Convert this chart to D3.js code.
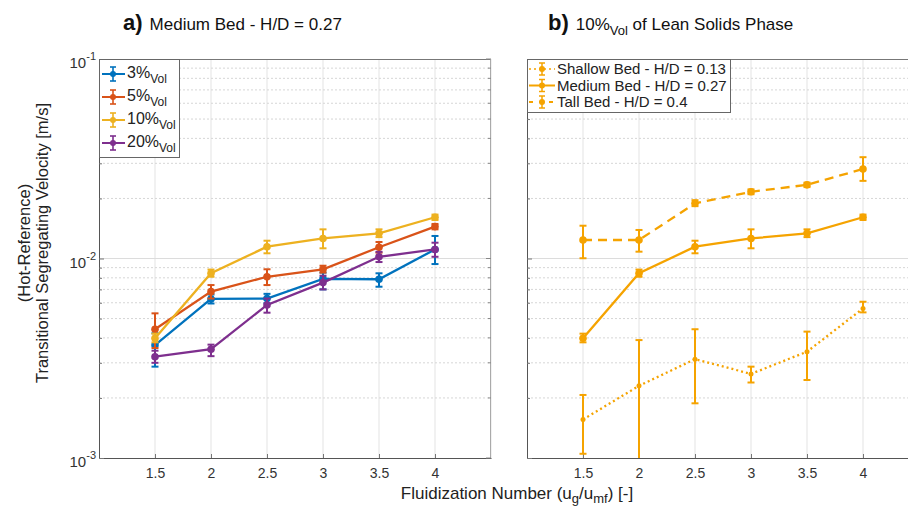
<!DOCTYPE html>
<html><head><meta charset="utf-8">
<script src="https://cdn.jsdelivr.net/npm/d3@7"></script>
<style>
html,body{margin:0;padding:0;background:#fff;}
svg{display:block;font-family:"Liberation Sans",Arial,Helvetica,sans-serif;}
</style></head><body>
<svg id="c" width="908" height="517"></svg>
<script>
// ---------- data ----------
const xValues = [1.5, 2, 2.5, 3, 3.5, 4];
const xTicks = [1.5, 2, 2.5, 3, 3.5, 4];
const yTicks = [0.001, 0.01, 0.1];
const yTickExp = ["-3", "-2", "-1"];

// panel a) Medium Bed - H/D = 0.27
const leftNames = ["3%", "5%", "10%", "20%"];
const leftColors = ["#0072BD", "#D95319", "#EDB120", "#7E2F8E"];
const v3Mean  = [0.00368, 0.00627, 0.00630, 0.00790, 0.00787, 0.0111];
const v3Lo    = [0.00287, 0.00595, 0.00597, 0.00700, 0.00722, 0.00938];
const v3Hi    = [0.00422, 0.00660, 0.00665, 0.00850, 0.00843, 0.01297];
const v5Mean  = [0.00442, 0.00682, 0.00810, 0.00883, 0.01138, 0.01445];
const v5Lo    = [0.00356, 0.00630, 0.00736, 0.00850, 0.01070, 0.01400];
const v5Hi    = [0.00531, 0.00736, 0.00883, 0.00920, 0.01210, 0.01490];
const v10Mean = [0.00398, 0.00843, 0.01146, 0.01260, 0.01337, 0.01610];
const v10Lo   = [0.00380, 0.00810, 0.01062, 0.01125, 0.01280, 0.01560];
const v10Hi   = [0.00420, 0.00880, 0.01228, 0.01400, 0.01400, 0.01660];
const v20Mean = [0.00322, 0.00351, 0.00585, 0.00757, 0.01020, 0.01110];
const v20Lo   = [0.00300, 0.00324, 0.00535, 0.00700, 0.00960, 0.01020];
const v20Hi   = [0.00345, 0.00370, 0.00630, 0.00820, 0.01080, 0.01200];

// panel b) 10%Vol of Lean Solids Phase
const rightNames = ["Shallow Bed - H/D = 0.13", "Medium Bed - H/D = 0.27", "Tall Bed - H/D = 0.4"];
const rightColor = "#F5A300";
const shallowMean = [0.00156, 0.00230, 0.00313, 0.00264, 0.00341, 0.00562];
const shallowLo   = [0.00105, 0.00050, 0.00188, 0.00239, 0.00246, 0.00537];
const shallowHi   = [0.00207, 0.00390, 0.00442, 0.00287, 0.00430, 0.00607];
const mediumMean  = v10Mean, mediumLo = v10Lo, mediumHi = v10Hi;
const tallMean    = [0.01238, 0.01238, 0.01890, 0.02160, 0.02340, 0.02810];
const tallLo      = [0.01003, 0.01082, 0.01830, 0.02100, 0.02280, 0.02450];
const tallHi      = [0.01460, 0.01390, 0.01960, 0.02220, 0.02400, 0.03220];

// ---------- layout ----------
const svg = d3.select("#c");
const plotTop = 59, plotBottom = 458, pw = 392;
const panels = [{x0: 99, id: "a"}, {x0: 527, id: "b"}];
const y = d3.scaleLog().domain([0.001, 0.1]).range([plotBottom, plotTop]);

function mkSeries(mean, lo, hi) {
  return xValues.map((x, i) => ({x, v: mean[i], lo: lo[i], hi: hi[i]}));
}

const leftSeries = [
  {name: leftNames[0], color: leftColors[0], data: mkSeries(v3Mean, v3Lo, v3Hi), dash: null},
  {name: leftNames[1], color: leftColors[1], data: mkSeries(v5Mean, v5Lo, v5Hi), dash: null},
  {name: leftNames[2], color: leftColors[2], data: mkSeries(v10Mean, v10Lo, v10Hi), dash: null},
  {name: leftNames[3], color: leftColors[3], data: mkSeries(v20Mean, v20Lo, v20Hi), dash: null}
];
const rightSeries = [
  {name: rightNames[0], color: rightColor, data: mkSeries(shallowMean, shallowLo, shallowHi), dash: "2,3"},
  {name: rightNames[1], color: rightColor, data: mkSeries(mediumMean, mediumLo, mediumHi), dash: null},
  {name: rightNames[2], color: rightColor, data: mkSeries(tallMean, tallLo, tallHi), dash: "9,6"}
];

const minorVals = [];
[0.001, 0.01].forEach(d => { for (let k = 2; k <= 9; k++) minorVals.push(d * k); });

panels.forEach((p, pi) => {
  const x = d3.scaleLinear().domain([1, 4.5]).range([p.x0, p.x0 + pw]);
  const g = svg.append("g");
  const clipId = "clip" + p.id;
  svg.append("clipPath").attr("id", clipId).append("rect")
    .attr("x", p.x0).attr("y", plotTop).attr("width", pw).attr("height", plotBottom - plotTop);

  // grid
  g.selectAll(".vg").data(xTicks.concat([4.5])).enter().append("line")
    .attr("x1", d => x(d)).attr("x2", d => x(d)).attr("y1", plotTop).attr("y2", plotBottom)
    .attr("stroke", "#e3e3e3").attr("stroke-width", 1);
  g.selectAll(".mg").data(minorVals).enter().append("line")
    .attr("x1", p.x0).attr("x2", p.x0 + pw).attr("y1", d => y(d)).attr("y2", d => y(d))
    .attr("stroke", "#d6d6d6").attr("stroke-width", 1).attr("stroke-dasharray", "2,2");
  g.append("line").attr("x1", p.x0).attr("x2", p.x0 + pw).attr("y1", y(0.01)).attr("y2", y(0.01))
    .attr("stroke", "#dcdcdc").attr("stroke-width", 1);

  // box
  g.append("line").attr("x1", p.x0).attr("x2", p.x0 + pw).attr("y1", plotTop + 0.5).attr("y2", plotTop + 0.5)
    .attr("stroke", "#777");
  g.append("line").attr("x1", p.x0 + pw - 0.5).attr("x2", p.x0 + pw - 0.5).attr("y1", plotTop).attr("y2", plotBottom)
    .attr("stroke", "#aaa");

  // axes
  const xa = g.append("g").attr("transform", `translate(0,${plotBottom})`)
    .call(d3.axisBottom(x).tickValues(xTicks).tickFormat(d3.format("")).tickSizeInner(-4).tickSizeOuter(0).tickPadding(10));
  xa.select(".domain").attr("stroke", "#555");
  xa.selectAll(".tick line").attr("stroke", "#777");
  xa.selectAll("text").attr("font-size", 14).attr("fill", "#333").attr("font-family", "Liberation Sans, Arial, sans-serif");

  const ya = g.append("g").attr("transform", `translate(${p.x0},0)`)
    .call(d3.axisLeft(y).tickValues(yTicks.concat(minorVals)).tickFormat("").tickSizeInner(-3).tickSizeOuter(0));
  ya.select(".domain").attr("stroke", "#555");
  ya.selectAll(".tick line").attr("stroke", "#777");
  ya.selectAll(".tick").filter(d => yTicks.includes(d)).select("line").attr("x2", 5);
  // right side ticks
  g.selectAll(".rt").data(yTicks.concat(minorVals)).enter().append("line")
    .attr("x1", p.x0 + pw).attr("x2", d => p.x0 + pw - (yTicks.includes(d) ? 5 : 3))
    .attr("y1", d => y(d)).attr("y2", d => y(d)).attr("stroke", "#888");

  if (pi === 0) {
    yTicks.forEach((t, i) => {
      const tx = g.append("text").attr("x", 96).attr("y", y(t) + 9).attr("text-anchor", "end")
        .attr("fill", "#333").attr("font-size", 15);
      tx.append("tspan").text("10");
      tx.append("tspan").attr("dy", -8).attr("font-size", 11).text(yTickExp[i]);
    });
  }

  // series
  const series = pi === 0 ? leftSeries : rightSeries;
  const dg = g.append("g").attr("clip-path", `url(#${clipId})`);
  const line = d3.line().x(d => x(d.x)).y(d => y(d.v));
  series.forEach(s => {
    dg.append("path").datum(s.data).attr("d", line).attr("fill", "none")
      .attr("stroke", s.color).attr("stroke-width", 2.3)
      .attr("stroke-dasharray", s.dash);
    const eb = dg.append("g").selectAll("g").data(s.data).enter().append("g");
    eb.append("line").attr("x1", d => x(d.x)).attr("x2", d => x(d.x))
      .attr("y1", d => y(d.lo)).attr("y2", d => y(d.hi)).attr("stroke", s.color).attr("stroke-width", 2);
    eb.append("line").attr("x1", d => x(d.x) - 3.5).attr("x2", d => x(d.x) + 3.5)
      .attr("y1", d => y(d.lo)).attr("y2", d => y(d.lo)).attr("stroke", s.color).attr("stroke-width", 2);
    eb.append("line").attr("x1", d => x(d.x) - 3.5).attr("x2", d => x(d.x) + 3.5)
      .attr("y1", d => y(d.hi)).attr("y2", d => y(d.hi)).attr("stroke", s.color).attr("stroke-width", 2);
    eb.append("circle").attr("cx", d => x(d.x)).attr("cy", d => y(d.v)).attr("r", s.dash === "2,3" ? 2.5 : 3.8)
      .attr("fill", s.color);
  });

  // legend
  if (pi === 0) {
    const lg = g.append("g");
    lg.append("rect").attr("x", p.x0 + 0.5).attr("y", plotTop + 0.5).attr("width", 80).attr("height", 98)
      .attr("fill", "#fff").attr("stroke", "#666");
    series.forEach((s, i) => {
      const ly = 74 + i * 23;
      const lx = p.x0 + 14;
      lg.append("line").attr("x1", p.x0 + 3).attr("x2", p.x0 + 26).attr("y1", ly).attr("y2", ly)
        .attr("stroke", s.color).attr("stroke-width", 2);
      lg.append("line").attr("x1", lx).attr("x2", lx).attr("y1", ly - 7).attr("y2", ly + 7)
        .attr("stroke", s.color).attr("stroke-width", 1.6);
      lg.append("line").attr("x1", lx - 3).attr("x2", lx + 3).attr("y1", ly - 7).attr("y2", ly - 7)
        .attr("stroke", s.color).attr("stroke-width", 1.6);
      lg.append("line").attr("x1", lx - 3).attr("x2", lx + 3).attr("y1", ly + 7).attr("y2", ly + 7)
        .attr("stroke", s.color).attr("stroke-width", 1.6);
      lg.append("circle").attr("cx", lx).attr("cy", ly).attr("r", 3).attr("fill", s.color);
      const t = lg.append("text").attr("x", p.x0 + 28).attr("y", ly + 4).attr("font-size", 16).attr("fill", "#222");
      t.append("tspan").text(s.name);
      t.append("tspan").attr("dy", 5).attr("font-size", 12).text("Vol");
    });
  } else {
    const lg = g.append("g");
    lg.append("rect").attr("x", p.x0 + 0.5).attr("y", plotTop + 0.5).attr("width", 203).attr("height", 53)
      .attr("fill", "#fff").attr("stroke", "#666");
    series.forEach((s, i) => {
      const ly = 69 + i * 16.5;
      const lx = p.x0 + 15;
      lg.append("line").attr("x1", p.x0 + 2).attr("x2", p.x0 + 28).attr("y1", ly).attr("y2", ly)
        .attr("stroke", s.color).attr("stroke-width", s.dash === "2,3" ? 1.3 : 2)
        .attr("stroke-dasharray", s.dash === "9,6" ? "4,6" : s.dash);
      lg.append("line").attr("x1", lx).attr("x2", lx).attr("y1", ly - 6).attr("y2", ly + 6)
        .attr("stroke", s.color).attr("stroke-width", 1.5);
      lg.append("line").attr("x1", lx - 3).attr("x2", lx + 3).attr("y1", ly - 6).attr("y2", ly - 6)
        .attr("stroke", s.color).attr("stroke-width", 1.5);
      lg.append("line").attr("x1", lx - 3).attr("x2", lx + 3).attr("y1", ly + 6).attr("y2", ly + 6)
        .attr("stroke", s.color).attr("stroke-width", 1.5);
      lg.append("circle").attr("cx", lx).attr("cy", ly).attr("r", 3).attr("fill", s.color);
      lg.append("text").attr("x", p.x0 + 30).attr("y", ly + 5).attr("font-size", 15).attr("fill", "#222").text(s.name);
    });
  }
});

// titles
const ta = svg.append("text").attr("x", 123).attr("y", 30).attr("fill", "#111");
ta.append("tspan").attr("font-size", 22).attr("font-weight", "bold").text("a)");
ta.append("tspan").attr("font-size", 17).attr("dx", 7).text("Medium Bed - H/D = 0.27");

const tb = svg.append("text").attr("x", 548).attr("y", 30).attr("fill", "#111");
tb.append("tspan").attr("font-size", 22).attr("font-weight", "bold").text("b)");
tb.append("tspan").attr("font-size", 17).attr("dx", 7).text("10%");
tb.append("tspan").attr("font-size", 13).attr("dy", 5).text("Vol");
tb.append("tspan").attr("font-size", 17).attr("dy", -5).text(" of Lean Solids Phase");

// axis labels
const xl = svg.append("text").attr("x", 517).attr("y", 499).attr("text-anchor", "middle")
  .attr("font-size", 17).attr("fill", "#222");
xl.append("tspan").text("Fluidization Number (u");
xl.append("tspan").attr("font-size", 13).attr("dy", 4).text("g");
xl.append("tspan").attr("dy", -4).text("/u");
xl.append("tspan").attr("font-size", 13).attr("dy", 4).text("mf");
xl.append("tspan").attr("dy", -4).text(") [-]");

const yl = svg.append("text").attr("transform", "translate(0,243) rotate(-90)")
  .attr("text-anchor", "middle").attr("font-size", 16.5).attr("fill", "#222");
yl.append("tspan").attr("x", 0).attr("y", 30).text("(Hot-Reference)");
yl.append("tspan").attr("x", 0).attr("y", 48).text("Transitional Segregating Velocity [m/s]");
</script>
</body></html>
